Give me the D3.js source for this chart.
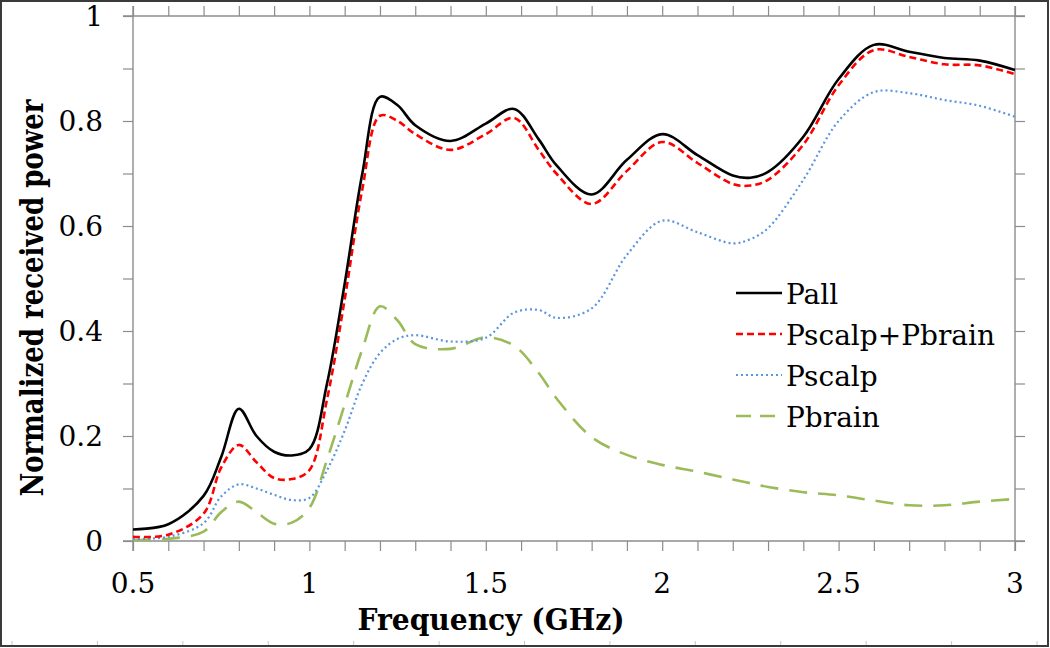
<!DOCTYPE html>
<html>
<head>
<meta charset="utf-8">
<script src="https://cdn.jsdelivr.net/npm/d3@7"></script>
<style>
  html, body { margin: 0; padding: 0; background: #fff; }
  svg { display: block; }
  text { fill: #000; }
</style>
</head>
<body>
<div id="viz"></div>
<script>
// datos
const freq   = [0.5, 0.6, 0.7, 0.75, 0.8, 0.85, 0.9, 0.95, 1.0, 1.05, 1.1, 1.15, 1.2, 1.25, 1.3, 1.4, 1.5, 1.58, 1.65, 1.7, 1.8, 1.9, 2.0, 2.1, 2.2, 2.25, 2.3, 2.4, 2.5, 2.6, 2.7, 2.8, 2.9, 3.0];
const pAll   = [0.022, 0.032, 0.086, 0.16, 0.252, 0.2, 0.17, 0.163, 0.175, 0.3, 0.49, 0.7, 0.846, 0.83, 0.792, 0.762, 0.795, 0.823, 0.765, 0.716, 0.66, 0.726, 0.775, 0.735, 0.696, 0.692, 0.703, 0.77, 0.88, 0.945, 0.932, 0.92, 0.915, 0.897];
const pSum   = [0.008, 0.012, 0.052, 0.14, 0.183, 0.15, 0.12, 0.118, 0.135, 0.27, 0.46, 0.67, 0.81, 0.8, 0.775, 0.745, 0.775, 0.806, 0.745, 0.7, 0.642, 0.705, 0.76, 0.72, 0.68, 0.677, 0.688, 0.755, 0.868, 0.935, 0.922, 0.908, 0.906, 0.889];
const pScalp = [0.004, 0.008, 0.034, 0.085, 0.108, 0.1, 0.088, 0.078, 0.082, 0.135, 0.21, 0.3, 0.358, 0.385, 0.392, 0.38, 0.387, 0.435, 0.44, 0.425, 0.443, 0.545, 0.61, 0.588, 0.567, 0.575, 0.596, 0.688, 0.8, 0.855, 0.853, 0.84, 0.829, 0.808];
const pBrain = [0.002, 0.004, 0.018, 0.055, 0.075, 0.055, 0.033, 0.035, 0.063, 0.155, 0.26, 0.365, 0.447, 0.42, 0.375, 0.366, 0.388, 0.372, 0.32, 0.272, 0.198, 0.164, 0.145, 0.132, 0.117, 0.11, 0.103, 0.093, 0.087, 0.077, 0.068, 0.068, 0.075, 0.08];

const seriesNames = ["Pall", "Pscalp+Pbrain", "Pscalp", "Pbrain"];
const xTickLabels = [0.5, 1, 1.5, 2, 2.5, 3];
const yTickLabels = [0, 0.2, 0.4, 0.6, 0.8, 1];

(function(){
  const W = 1050, H = 648;
  const margin = { top: 16, right: 35, bottom: 107, left: 133 };
  const width  = W - margin.left - margin.right;
  const height = H - margin.top - margin.bottom;
  const axisColor = "#8c8c8c";
  const serif = "'DejaVu Serif', 'Noto Serif', 'Liberation Serif', serif";

  const svg = d3.select("#viz").append("svg")
    .attr("width", W).attr("height", H);

  // marco exterior
  svg.append("rect")
    .attr("x", 1).attr("y", 1).attr("width", W - 3).attr("height", H - 3)
    .attr("fill", "none").attr("stroke", "#3a3a3a").attr("stroke-width", 2);
  const rulerX = d3.scaleLinear().domain([0, 12]).range([12, 1037]);
  svg.append("g").selectAll("line").data(d3.range(13)).join("line")
    .attr("x1", d => rulerX(d)).attr("x2", d => rulerX(d))
    .attr("y1", H - 7).attr("y2", H - 3)
    .attr("stroke", "#c8c8c8").attr("stroke-width", 1);

  const g = svg.append("g").attr("transform", `translate(${margin.left},${margin.top})`);

  const x = d3.scaleLinear().domain([0.5, 3]).range([0, width]);
  const y = d3.scaleLinear().domain([0, 1]).range([height, 0]);

  const xMinor = d3.range(5, 31).map(d => d / 10);
  const yMinor = d3.range(0, 11).map(d => d / 10);

  function styleAxis(sel) {
    sel.select(".domain").remove();
    sel.selectAll(".tick line").attr("stroke", axisColor).attr("stroke-width", 1.2);
    sel.selectAll(".tick text").remove();
  }

  // ejes con marcas menores
  g.append("g").attr("transform", `translate(0,${height})`)
    .call(d3.axisBottom(x).tickValues(xMinor).tickSizeInner(10).tickSizeOuter(0)).call(styleAxis);
  g.append("g")
    .call(d3.axisTop(x).tickValues(xMinor).tickSizeInner(10).tickSizeOuter(0)).call(styleAxis);
  g.append("g")
    .call(d3.axisLeft(y).tickValues(yMinor).tickSizeInner(10).tickSizeOuter(0)).call(styleAxis);
  g.append("g").attr("transform", `translate(${width},0)`)
    .call(d3.axisRight(y).tickValues(yMinor).tickSizeInner(10).tickSizeOuter(0)).call(styleAxis);

  // lineas de los ejes (sobresalen 10px)
  const ext = 10;
  [[x(0.5) - ext, y(0), x(3) + ext, y(0)],
   [x(0.5) - ext, y(1), x(3) + ext, y(1)],
   [x(0.5), y(1) - ext, x(0.5), y(0) + ext],
   [x(3), y(1) - ext, x(3), y(0) + ext]].forEach(l => {
    g.append("line")
      .attr("x1", l[0]).attr("y1", l[1]).attr("x2", l[2]).attr("y2", l[3])
      .attr("stroke", axisColor).attr("stroke-width", 1.4);
  });

  // etiquetas de los ejes
  g.append("g").selectAll("text").data(xTickLabels).join("text")
    .attr("x", d => x(d)).attr("y", height + 52)
    .attr("text-anchor", "middle").attr("font-size", 28).attr("font-family", serif)
    .text(d => d);
  g.append("g").selectAll("text").data(yTickLabels).join("text")
    .attr("x", -30).attr("y", d => y(d) + 10)
    .attr("text-anchor", "end").attr("font-size", 28).attr("font-family", serif)
    .text(d => d);

  svg.append("text")
    .attr("x", 491).attr("y", 630)
    .attr("text-anchor", "middle").attr("font-size", 30).attr("font-weight", "bold")
    .attr("font-family", serif)
    .attr("textLength", 267).attr("lengthAdjust", "spacingAndGlyphs")
    .text("Frequency (GHz)");
  svg.append("text")
    .attr("transform", "translate(43,298) rotate(-90)")
    .attr("text-anchor", "middle").attr("font-size", 31).attr("font-weight", "bold")
    .attr("font-family", serif)
    .attr("textLength", 397).attr("lengthAdjust", "spacingAndGlyphs")
    .text("Normalized received power");

  // series
  const styles = [
    { data: pAll,   color: "#000000", dash: null,   w: 2.6 },
    { data: pSum,   color: "#ff0000", dash: "7 4",  w: 2.6 },
    { data: pScalp, color: "#5b95e0", dash: "2 3",  w: 2.2 },
    { data: pBrain, color: "#9bbb59", dash: "18 11", w: 2.6 }
  ];

  const line = d3.line()
    .x(d => x(d[0]))
    .y(d => y(d[1]))
    .curve(d3.curveCatmullRom.alpha(0.5));

  styles.slice().reverse().forEach(s => {
    g.append("path")
      .datum(freq.map((f, i) => [f, s.data[i]]))
      .attr("fill", "none")
      .attr("stroke", s.color)
      .attr("stroke-width", s.w)
      .attr("stroke-dasharray", s.dash)
      .attr("d", line);
  });

  // leyenda
  const leg = svg.append("g").attr("transform", "translate(736,293)");
  styles.forEach((s, i) => {
    const row = leg.append("g").attr("transform", `translate(0,${i * 41})`);
    row.append("line")
      .attr("x1", 0).attr("x2", 46).attr("y1", 0).attr("y2", 0)
      .attr("stroke", s.color).attr("stroke-width", s.w)
      .attr("stroke-dasharray", s.dash === "18 11" ? "15 9" : s.dash);
    row.append("text")
      .attr("x", 50).attr("y", 11)
      .attr("font-size", 28).attr("font-family", serif)
      .text(seriesNames[i]);
  });
})();
</script>
</body>
</html>
